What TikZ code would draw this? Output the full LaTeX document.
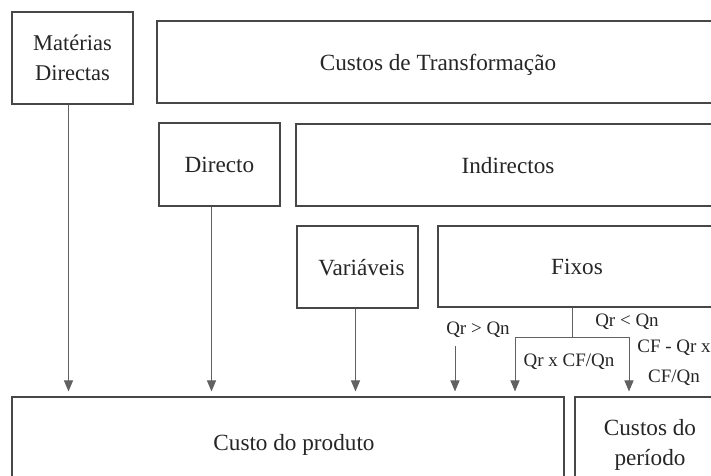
\documentclass[tikz,border=0pt]{standalone}
\usepackage{fontspec}
\setmainfont{Liberation Serif}
\usetikzlibrary{arrows.meta}
\begin{document}
\begin{tikzpicture}[x=1pt,y=-1pt,
  box/.style={draw=black!72, line width=1.1pt, inner sep=0pt, align=center,
    font=\fontsize{23.2}{30}\selectfont, text=black!85, text depth=0pt},
  lab/.style={font=\fontsize{19}{23}\selectfont, inner sep=0pt, text=black!85},
  arr/.style={draw=black!62, line width=1pt, -{Triangle[length=11pt,width=9pt]}, shorten >=5pt},
  ln/.style={draw=black!62, line width=1pt}]
\useasboundingbox (0,0) rectangle (711,475);
\fill[white] (0,0) rectangle (711,475);
\clip (0,0) rectangle (711,475);

\node[box, minimum width=121pt, minimum height=92pt, font=\fontsize{22.5}{30}\selectfont] (mat) at (72.5,58) {Matérias\\Directas};
\node[box, minimum width=562pt, minimum height=82pt] (tra) at (438,62) {Custos de Transformação};
\node[box, minimum width=121pt, minimum height=83pt] (dir) at (219.5,164.5) {Directo};
\node[box, minimum width=424pt, minimum height=82pt] (ind) at (508,165) {Indirectos};
\node[box, minimum width=121pt, minimum height=82pt] (var) at (357.5,267) {\hspace*{8pt}Variáveis};
\node[box, minimum width=278pt, minimum height=81pt] (fix) at (577,266.5) {Fixos};
\node[box, minimum width=552pt, minimum height=90pt] (prod) at (288,442) {\hspace*{12pt}Custo do produto};
\node[box, minimum width=150pt, minimum height=90pt] (per) at (650,442) {Custos do\\período};

\node[lab] (l1) at (478,330) {Qr > Qn};
\node[lab] (l2) at (627,322) {Qr < Qn};
\node[lab] (l3) at (569,362) {Qr x CF/Qn};
\node[lab] (l4) at (674,348) {CF - Qr x};
\node[lab] (l5) at (674,378) {CF/Qn};

\draw[arr] ([xshift=-4pt]mat.south) -- ([xshift=-4pt]mat.south |- prod.north);
\draw[arr] ([xshift=-8pt]dir.south) -- ([xshift=-8pt]dir.south |- prod.north);
\draw[arr] ([xshift=-2pt]var.south) -- ([xshift=-2pt]var.south |- prod.north);
\coordinate (q) at (455,346);
\draw[arr] (q) -- (q |- prod.north);
\coordinate (fb) at (572,337);
\coordinate (fl) at (515,337);
\coordinate (fr) at (629,337);
\draw[ln] (fix.south -| fb) -- (fb);
\draw[ln] (fl) -- (fr);
\draw[arr] (fl) -- (fl |- prod.north);
\draw[arr] (fr) -- (fr |- per.north);
\end{tikzpicture}
\end{document}
